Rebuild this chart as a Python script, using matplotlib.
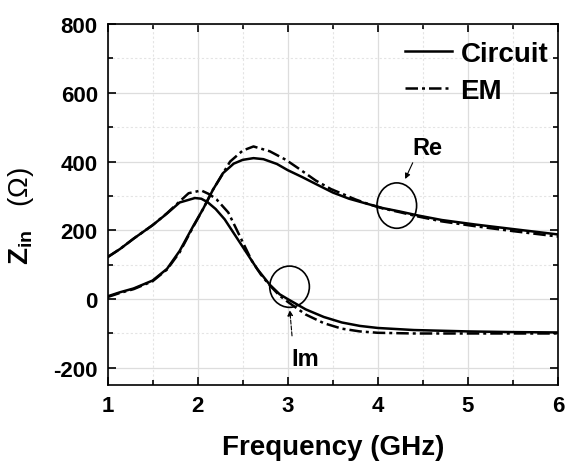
"""
Input impedance Z_in vs frequency: circuit model vs EM simulation
"""

import matplotlib.pyplot as plt
from matplotlib.patches import Ellipse
from matplotlib.ticker import MultipleLocator

plt.rcParams['font.family'] = ['Liberation Sans', 'DejaVu Sans']
plt.rcParams['mathtext.fontset'] = 'custom'
plt.rcParams['mathtext.rm'] = 'Liberation Sans'
plt.rcParams['mathtext.bf'] = 'Liberation Sans:bold'
plt.rcParams['axes.unicode_minus'] = False

freq_re_c = [1.0, 1.14, 1.29, 1.5, 1.66, 1.8, 1.95, 2.06, 2.17, 2.28, 2.4, 2.5, 2.62, 2.73,
             2.88, 3.0, 3.16, 3.31, 3.5, 3.68, 3.87, 4.05, 4.24, 4.45, 4.71, 5.08, 5.49, 6.0]
re_circuit = [8, 20, 31, 54, 88, 140, 212, 262, 318, 366, 394, 405, 410, 407,
              393, 375, 355, 335, 310, 292, 278, 265, 255, 243, 230, 217, 204, 188]

freq_re_em = [1.0, 1.14, 1.29, 1.5, 1.66, 1.8, 1.95, 2.06, 2.17, 2.25, 2.36, 2.5, 2.62,
              2.8, 2.98, 3.12, 3.31, 3.48, 3.59, 3.75, 3.9, 4.05, 4.24, 4.45, 4.71, 5.08, 5.49, 6.0]
re_em = [6, 18, 29, 52, 86, 136, 210, 262, 318, 352, 400, 432, 444,
         430, 405, 380, 345, 320, 308, 290, 276, 264, 253, 240, 226, 212, 198, 182]

freq_im_c = [1.0, 1.14, 1.29, 1.5, 1.66, 1.8, 1.97, 2.04, 2.11, 2.2, 2.3, 2.4, 2.5, 2.66, 2.8,
             2.91, 3.0, 3.2, 3.4, 3.6, 3.8, 4.0, 4.4, 5.0, 5.5, 6.0]
im_circuit = [122, 146, 176, 215, 249, 281, 294, 292, 282, 262, 232, 192, 152, 88, 42,
              14, 0, -30, -52, -68, -78, -84, -90, -94, -96, -97]

freq_im_em = [1.0, 1.14, 1.29, 1.5, 1.66, 1.8, 1.9, 2.04, 2.13, 2.21, 2.34, 2.47, 2.6, 2.7,
              2.8, 2.91, 3.0, 3.2, 3.4, 3.6, 3.8, 4.0, 4.4, 5.0, 5.5, 6.0]
im_em = [122, 146, 176, 215, 250, 284, 308, 316, 305, 290, 252, 182, 112, 72,
         40, 10, -8, -45, -70, -86, -94, -98, -100, -100, -100, -100]

fig = plt.figure(figsize=(5.66, 4.64), dpi=100)
ax = fig.add_axes([0.19, 0.168, 0.796, 0.778])

dashdot = (0, (5, 1.6, 1.2, 1.6))
ax.plot(freq_re_c, re_circuit, color='black', lw=1.8, label='Circuit')
ax.plot(freq_re_em, re_em, color='black', lw=1.8, ls=dashdot, label='EM')
ax.plot(freq_im_c, im_circuit, color='black', lw=1.8)
ax.plot(freq_im_em, im_em, color='black', lw=1.8, ls=dashdot)

ax.set_xlim(1, 6)
ax.set_ylim(-250, 800)
ax.xaxis.set_major_locator(MultipleLocator(1))
ax.xaxis.set_minor_locator(MultipleLocator(0.5))
ax.yaxis.set_major_locator(MultipleLocator(200))
ax.yaxis.set_minor_locator(MultipleLocator(100))

ax.grid(which='major', color='#dddddd', lw=0.9)
ax.grid(which='minor', color='#e4e4e4', lw=0.8, ls=(0, (2, 2)))
ax.set_axisbelow(True)

ax.tick_params(which='both', direction='in', top=True, right=True, width=1.2)
ax.tick_params(which='major', length=6, labelsize=16, pad=7)
ax.tick_params(which='minor', length=3.5)
for lab in ax.get_xticklabels() + ax.get_yticklabels():
    lab.set_fontweight('bold')
for s in ax.spines.values():
    s.set_linewidth(1.2)

ax.set_xlabel('Frequency (GHz)', fontsize=20, fontweight='bold', labelpad=13)
ax.set_ylabel(r'$\mathbf{Z_{in}}$   ($\Omega$)', fontsize=20)
ax.yaxis.set_label_coords(-0.158, 0.47)

# circles and arrows
ax.add_patch(Ellipse((4.21, 272), 0.44, 132, fill=False, color='black', lw=1.2))
ax.add_patch(Ellipse((3.02, 36), 0.44, 120, fill=False, color='black', lw=1.2))
ax.annotate('', xy=(4.29, 342), xytext=(4.40, 404),
            arrowprops=dict(arrowstyle='-|>', color='black', lw=0.8, mutation_scale=8))
ax.text(4.38, 408, 'Re', fontsize=17, fontweight='bold', ha='left', va='bottom')
ax.annotate('', xy=(3.02, -24), xytext=(3.05, -115),
            arrowprops=dict(arrowstyle='-|>', color='black', lw=0.8, ls='--', mutation_scale=8))
ax.text(3.04, -172, 'Im', fontsize=17, fontweight='bold', ha='left', va='center')

leg = ax.legend(loc='upper right', bbox_to_anchor=(1.015, 1.0), frameon=False, fontsize=20,
                handlelength=1.7, handletextpad=0.3, labelspacing=0.4, borderaxespad=0.2)
for t in leg.get_texts():
    t.set_fontweight('bold')

fig.savefig('out.png', dpi=100)
